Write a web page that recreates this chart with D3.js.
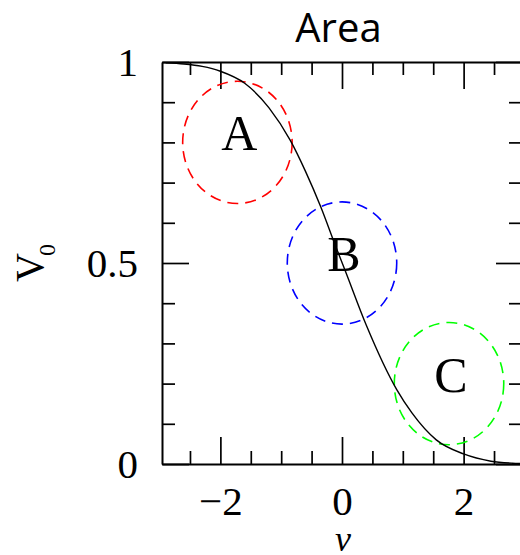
<!DOCTYPE html>
<html>
<head>
<meta charset="utf-8">
<script src="https://cdn.jsdelivr.net/npm/d3@7"></script>
<style>
  html, body { margin: 0; padding: 0; background: #fff; }
  svg { display: block; }
  .serif { font-family: "Liberation Serif", "Times New Roman", serif; }
  .sans { font-family: "Open Sans", sans-serif; }
</style>
</head>
<body>
<svg id="chart" width="520" height="555"></svg>
<script>
// ---- data ----
const curveNu = [-2.9, -2.6, -2.3, -2.0, -1.6, -1.2, -0.85, -0.6, -0.35, -0.1, 0.05, 0.4, 0.9, 1.15, 1.55, 2.0, 2.45, 2.8, 2.95];
const curveV  = [0.998, 0.995, 0.989, 0.977, 0.947, 0.886, 0.805, 0.728, 0.640, 0.540, 0.482, 0.345, 0.185, 0.127, 0.060, 0.025, 0.007, 0.002, 0.001];

const regionLabels = ["A", "B", "C"];
const regionNu = [-1.72, 0, 1.76];
const regionV = [0.8, 0.5, 0.2];
const regionRadiusNu = [0.9, 0.9, 0.9];
const regionRadiusV = [0.152, 0.152, 0.152];
const regionColors = ["#ff0000", "#0000ff", "#00ff00"];

const xMajorTicks = [-2, 0, 2];
const xMinorTicks = [-2.5, -1.5, -1, -0.5, 0.5, 1, 1.5, 2.5];
const yMajorTicks = [0, 0.5, 1];
const yMinorTicks = [0.1, 0.2, 0.3, 0.4, 0.6, 0.7, 0.8, 0.9];

const titleText = "Area";
const xLabel = "ν";
const yLabelMain = "V";
const yLabelSub = "0";

// ---- layout ----
const plotLeft = 162, plotRight = 522, plotTop = 62, plotBottom = 464;
const svg = d3.select("#chart");

const x = d3.scaleLinear().domain([-2.96, 2.96]).range([plotLeft, plotRight]);
const y = d3.scaleLinear().domain([0, 1]).range([plotBottom, plotTop]);

const majorLen = 27, minorLen = 13;

function styleAxis(g) {
  g.attr("font-family", null).attr("font-size", null);
  g.select(".domain").attr("stroke", "#000").attr("stroke-width", 2);
  g.selectAll(".tick line").attr("stroke", "#000").attr("stroke-width", 1.7);
  g.selectAll("text").attr("class", "serif").attr("font-size", 41).attr("fill", "#000");
}

// bottom
svg.append("g").attr("transform", `translate(0,${plotBottom})`)
  .call(d3.axisBottom(x).tickValues(xMinorTicks).tickSizeInner(-minorLen).tickSizeOuter(0).tickFormat(""))
  .call(styleAxis);
const bx = svg.append("g").attr("transform", `translate(0,${plotBottom})`)
  .call(d3.axisBottom(x).tickValues(xMajorTicks).tickSizeInner(-majorLen).tickSizeOuter(0).tickPadding(22).tickFormat(d3.format("d")))
  .call(styleAxis);
bx.selectAll(".domain").remove();

// top
svg.append("g").attr("transform", `translate(0,${plotTop})`)
  .call(d3.axisTop(x).tickValues(xMinorTicks).tickSizeInner(-minorLen).tickSizeOuter(0).tickFormat(""))
  .call(styleAxis);
svg.append("g").attr("transform", `translate(0,${plotTop})`)
  .call(d3.axisTop(x).tickValues(xMajorTicks).tickSizeInner(-majorLen).tickSizeOuter(0).tickFormat(""))
  .call(styleAxis).selectAll(".domain").remove();

// left
svg.append("g").attr("transform", `translate(${plotLeft},0)`)
  .call(d3.axisLeft(y).tickValues(yMinorTicks).tickSizeInner(-minorLen).tickSizeOuter(0).tickFormat(""))
  .call(styleAxis);
const ly = svg.append("g").attr("transform", `translate(${plotLeft},0)`)
  .call(d3.axisLeft(y).tickValues(yMajorTicks).tickSizeInner(-majorLen).tickSizeOuter(0).tickPadding(24).tickFormat(d3.format("")))
  .call(styleAxis);
ly.selectAll(".domain").remove();
ly.selectAll("text").attr("dy", "0.34em");

// right
svg.append("g").attr("transform", `translate(${plotRight},0)`)
  .call(d3.axisRight(y).tickValues(yMinorTicks).tickSizeInner(-minorLen).tickSizeOuter(0).tickFormat(""))
  .call(styleAxis);
svg.append("g").attr("transform", `translate(${plotRight},0)`)
  .call(d3.axisRight(y).tickValues(yMajorTicks).tickSizeInner(-26).tickSizeOuter(0).tickFormat(""))
  .call(styleAxis).selectAll(".domain").remove();

// regions (dashed ellipses)
const regions = regionLabels.map((l, i) => ({label: l, nu: regionNu[i], v: regionV[i], rnu: regionRadiusNu[i], rv: regionRadiusV[i], color: regionColors[i]}));

svg.append("g").selectAll("ellipse").data(regions).join("ellipse")
  .attr("cx", d => x(d.nu))
  .attr("cy", d => y(d.v))
  .attr("rx", d => x(d.nu + d.rnu) - x(d.nu))
  .attr("ry", d => y(d.v) - y(d.v + d.rv))
  .attr("fill", "none")
  .attr("stroke", d => d.color)
  .attr("stroke-width", 1.6)
  .attr("stroke-dasharray", "11,7");

// curve
const line = d3.line().x(d => x(d[0])).y(d => y(d[1])).curve(d3.curveMonotoneX);
svg.append("path")
  .datum(curveNu.map((n, i) => [n, curveV[i]]))
  .attr("d", line)
  .attr("fill", "none")
  .attr("stroke", "#000")
  .attr("stroke-width", 1.4);

// region labels
svg.append("g").selectAll("text").data(regions).join("text")
  .attr("class", "serif")
  .attr("x", d => x(d.nu) + 2)
  .attr("y", d => y(d.v) + 8)
  .attr("text-anchor", "middle")
  .attr("font-size", 50)
  .attr("fill", "#000")
  .text(d => d.label);

// title
svg.append("text")
  .attr("class", "sans")
  .attr("x", 338.5).attr("y", 42)
  .attr("text-anchor", "middle")
  .attr("font-size", 40)
  .attr("fill", "#000")
  .text(titleText);

// x label
svg.append("text")
  .attr("class", "serif")
  .attr("x", 343).attr("y", 551)
  .attr("text-anchor", "middle")
  .attr("font-size", 36)
  .attr("font-style", "italic")
  .text(xLabel);

// y label
const yl = svg.append("text")
  .attr("class", "serif")
  .attr("transform", "translate(43,282) rotate(-90)")
  .attr("font-size", 40);
yl.append("tspan").text(yLabelMain);
yl.append("tspan").attr("font-size", 24).attr("dy", 12).attr("dx", -3).text(yLabelSub);
</script>
</body>
</html>
